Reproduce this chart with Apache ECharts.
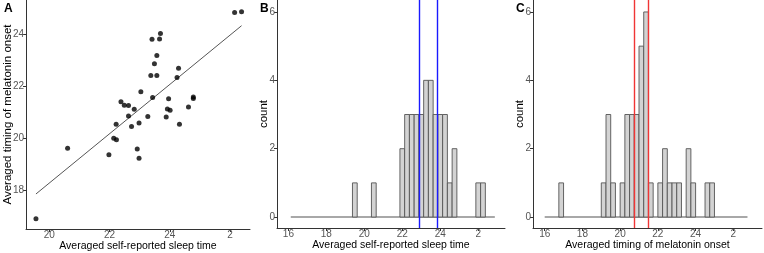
<!DOCTYPE html>
<html><head><meta charset="utf-8">
<script src="https://cdn.jsdelivr.net/npm/echarts@6/dist/echarts.min.js"></script>
<style>html,body{margin:0;padding:0;background:#fff}#c{width:764px;height:253px}</style>
</head><body><div id="c"></div><script>
// Panel A: averaged self-reported sleep time (x) vs averaged melatonin onset (y), hours (26 = 2 am)
const sleepTime = [19.56, 20.61, 21.98, 22.14, 22.23, 22.22, 22.38, 22.49, 22.63, 22.63, 22.82, 22.73, 22.92, 22.98, 22.98, 23.04, 23.27, 23.37, 23.41, 23.43, 23.49, 23.57, 23.57, 23.66, 23.69, 23.88, 23.92, 23.96, 24.01, 24.24, 24.29, 24.32, 24.62, 24.78, 24.78, 26.15, 26.38];
const melatoninOnset = [16.89, 19.60, 19.35, 19.99, 19.93, 20.53, 21.40, 21.26, 21.25, 20.85, 21.11, 20.44, 19.57, 19.22, 20.58, 21.78, 20.83, 22.41, 23.81, 21.56, 22.86, 23.18, 22.41, 23.82, 24.03, 20.81, 21.12, 21.51, 21.07, 22.33, 22.69, 20.53, 21.19, 21.58, 21.52, 24.84, 24.87];

// Panel B histogram (bin width 0.25 h)
const binWidth = 0.25;
const sleepBinStarts = [19.375, 20.375, 21.875, 22.125, 22.375, 22.625, 22.875, 23.125, 23.375, 23.625, 23.875, 24.125, 24.375, 24.625, 25.875, 26.125];
const sleepCounts    = [1, 1, 2, 3, 3, 3, 3, 4, 4, 3, 3, 3, 1, 2, 1, 1];
const sleepBinRange  = [16.125, 26.875];
const sleepRefLines  = [22.89, 23.86];

// Panel C histogram
const melBinStarts = [16.75, 19.0, 19.25, 19.5, 20.0, 20.25, 20.5, 20.75, 21.0, 21.25, 21.5, 22.0, 22.25, 22.5, 22.75, 23.0, 23.5, 23.75, 24.5, 24.75];
const melCounts    = [1, 1, 3, 1, 1, 3, 3, 3, 5, 6, 1, 1, 2, 1, 1, 1, 2, 1, 1, 1];
const melBinRange  = [16.0, 26.75];
const melRefLines  = [20.76, 21.50];

// Tick values
const scatterXTicks = [20, 22, 24, 26];
const scatterYTicks = [18, 20, 22, 24];
const histXTicks = [16, 18, 20, 22, 24, 26];
const countTicks = [0, 2, 4, 6];

// least-squares fit for panel A
const n = sleepTime.length;
const mx = sleepTime.reduce((a, b) => a + b, 0) / n;
const my = melatoninOnset.reduce((a, b) => a + b, 0) / n;
let sxy = 0, sxx = 0;
for (let i = 0; i < n; i++) { sxy += (sleepTime[i] - mx) * (melatoninOnset[i] - my); sxx += (sleepTime[i] - mx) ** 2; }
const slope = sxy / sxx, icpt = my - slope * mx;
const xMin = Math.min(...sleepTime), xMax = Math.max(...sleepTime);
const fitLine = [[xMin, icpt + slope * xMin], [xMax, icpt + slope * xMax]];

const FONT = "'Liberation Sans', Arial, sans-serif";
const hourFmt = v => String(v > 24 ? v - 24 : v);

function xAxisCfg(idx, min, max, ticks, name) {
  return {
    type: 'value', gridIndex: idx, min, max, name, nameLocation: 'middle', nameGap: 12, nameMoveOverlap: false,
    nameTextStyle: { fontSize: 10.5, color: '#000', fontFamily: FONT, verticalAlign: 'top' },
    axisLine: { onZero: false, lineStyle: { color: '#333', width: 1 } },
    axisTick: { length: 3, customValues: ticks, lineStyle: { color: '#333' } },
    axisLabel: { customValues: ticks, formatter: hourFmt, color: '#555', fontSize: 10, margin: 1, fontFamily: FONT },
    splitLine: { show: false }
  };
}
function yAxisCfg(idx, min, max, ticks, name, gap) {
  return {
    type: 'value', gridIndex: idx, min, max, name, nameLocation: 'middle', nameGap: gap, nameMoveOverlap: false,
    nameTextStyle: { fontSize: 11.5, color: '#000', fontFamily: FONT },
    axisLine: { show: true, onZero: false, lineStyle: { color: '#333', width: 1 } },
    axisTick: { show: true, length: 3, customValues: ticks, lineStyle: { color: '#333' } },
    axisLabel: { customValues: ticks, color: '#555', fontSize: 10, margin: 2, fontFamily: FONT },
    splitLine: { show: false }
  };
}

function histItems(starts, counts) {
  return starts.map((s, i) => [s, s + binWidth, counts[i]]);
}
function renderBar(params, api) {
  const p0 = api.coord([api.value(0), 0]);
  const p1 = api.coord([api.value(1), api.value(2)]);
  return { type: 'rect', shape: { x: p0[0], y: p1[1], width: p1[0] - p0[0], height: p0[1] - p1[1] },
    style: { fill: '#d3d3d3', stroke: '#555', lineWidth: 0.9 } };
}
function histSeries(idx, starts, counts, range, refs, refColor) {
  return [
    { type: 'line', xAxisIndex: idx, yAxisIndex: idx, data: [[range[0], 0], [range[1], 0]], symbol: 'none', z: 1,
      lineStyle: { color: '#a8a8a8', width: 2 }, silent: true,
      markLine: { symbol: 'none', silent: true, label: { show: false }, animation: false,
        lineStyle: { color: refColor, width: 1.4, type: 'solid' },
        data: refs.map(v => ({ xAxis: v })) } },
    { type: 'custom', xAxisIndex: idx, yAxisIndex: idx, renderItem: renderBar, z: 2,
      encode: { x: [0, 1], y: 2 }, data: histItems(starts, counts) }
  ];
}

const gridBase = { outerBoundsMode: 'none', containLabel: false };
const option = {
  animation: false,
  textStyle: { fontFamily: FONT },
  title: [
    { text: 'A', left: 4, top: 3, padding: 0, textStyle: { fontSize: 12, fontWeight: 'bold', color: '#000', fontFamily: FONT } },
    { text: 'B', left: 260, top: 3, padding: 0, textStyle: { fontSize: 12, fontWeight: 'bold', color: '#000', fontFamily: FONT } },
    { text: 'C', left: 516, top: 3, padding: 0, textStyle: { fontSize: 12, fontWeight: 'bold', color: '#000', fontFamily: FONT } }
  ],
  grid: [
    Object.assign({ left: 26, top: 0, width: 224, height: 229 }, gridBase),
    Object.assign({ left: 277, top: 0, width: 228, height: 228 }, gridBase),
    Object.assign({ left: 533, top: 0, width: 229, height: 228 }, gridBase)
  ],
  xAxis: [
    xAxisCfg(0, 19.23, 26.66, scatterXTicks, 'Averaged self-reported sleep time'),
    xAxisCfg(1, 15.40, 27.41, histXTicks, 'Averaged self-reported sleep time'),
    xAxisCfg(2, 15.38, 27.52, histXTicks, 'Averaged timing of melatonin onset')
  ],
  yAxis: [
    yAxisCfg(0, 16.49, 25.32, scatterYTicks, 'Averaged timing of melatonin onset', 12),
    yAxisCfg(1, -0.32, 6.35, countTicks, 'count', 7),
    yAxisCfg(2, -0.32, 6.35, countTicks, 'count', 7)
  ],
  series: [
    { type: 'scatter', xAxisIndex: 0, yAxisIndex: 0, symbolSize: 5, itemStyle: { color: '#000' },
      data: sleepTime.map((x, i) => [x, melatoninOnset[i]]), z: 3 },
    { type: 'line', xAxisIndex: 0, yAxisIndex: 0, data: fitLine, symbol: 'none', z: 2,
      lineStyle: { color: '#555', width: 1 } },
    ...histSeries(1, sleepBinStarts, sleepCounts, sleepBinRange, sleepRefLines, '#1a1aff'),
    ...histSeries(2, melBinStarts, melCounts, melBinRange, melRefLines, '#f03535')
  ]
};
echarts.init(document.getElementById('c'), null, { renderer: 'canvas' }).setOption(option);
</script></body></html>
